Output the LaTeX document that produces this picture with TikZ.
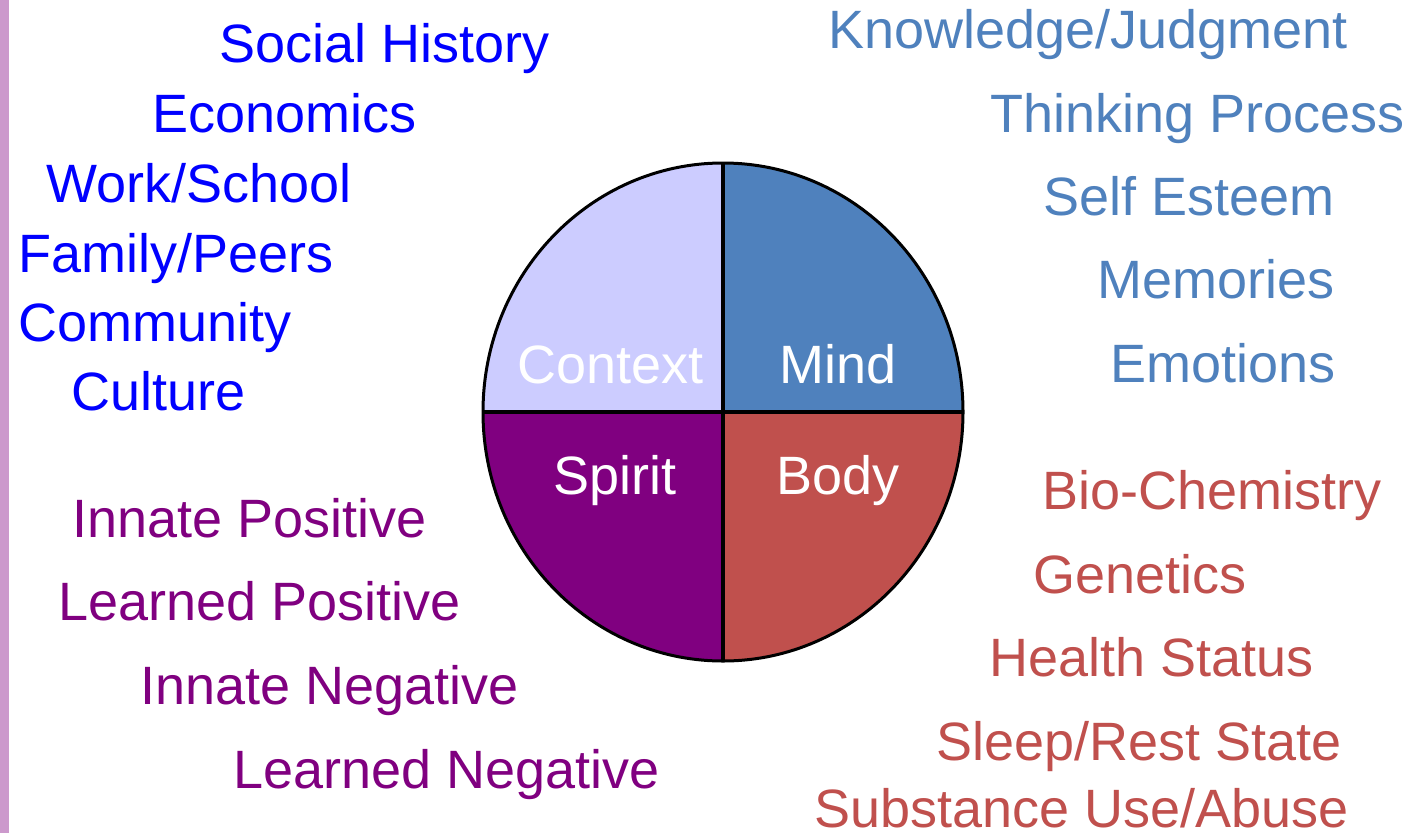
\documentclass[tikz,border=0pt]{standalone}
\usepackage{fontspec}
\setmainfont{Liberation Sans}
\usepackage{tikz}

\definecolor{ctxblue}{HTML}{0000FF}
\definecolor{mindblue}{HTML}{4F81BD}
\definecolor{spiritpurple}{HTML}{800080}
\definecolor{bodyred}{HTML}{C0504D}
\definecolor{ctxfill}{HTML}{CCCCFF}
\definecolor{barpink}{HTML}{CC99CC}

\begin{document}
\begin{tikzpicture}[x=1pt, y=-1pt,
	lbl/.style={anchor=base west, inner sep=0pt, font=\fontsize{54}{60}\selectfont}]
	\useasboundingbox (0,0) rectangle (1408,833);
	\fill[barpink] (0,0) rectangle (9,833);

	\coordinate (c) at (723,412);
	\coordinate (top) at (723,163);
	\coordinate (bot) at (723,661);
	\coordinate (lft) at (483,412);
	\coordinate (rgt) at (963,412);
	\begin{scope}
		\clip (c) ellipse [x radius=240pt, y radius=249pt];
		\fill[ctxfill] (c) rectangle (470,150);
		\fill[mindblue] (c) rectangle (980,150);
		\fill[spiritpurple] (c) rectangle (470,675);
		\fill[bodyred] (c) rectangle (980,675);
	\end{scope}
	\draw[line width=3pt] (c) ellipse [x radius=240pt, y radius=249pt];
	\draw[line width=3.5pt] (top) -- (bot);
	\draw[line width=3.5pt] (lft) -- (rgt);

	\draw (517,383) node[lbl, white] (context) {Context};
	\draw (779,383) node[lbl, white] (mind) {Mind};
	\draw (553,494) node[lbl, white] (spirit) {Spirit};
	\draw (776,494) node[lbl, white] (body) {Body};

	\foreach \name/\x/\y/\txt in {soc/219/62/Social History, eco/152/132/Economics,
		work/46/202/{Work/School}, fam/18/272/{Family/Peers}, com/18/341/Community, cul/71/410/Culture}{
		\draw (\x,\y) node[lbl, ctxblue] (\name) {\txt};
	}
	\foreach \name/\x/\y/\txt in {know/828/48/{Knowledge/Judgment}, think/990/132/Thinking Process,
		self/1043/215/Self Esteem, mem/1097/298/Memories, emo/1110/382/Emotions}{
		\draw (\x,\y) node[lbl, mindblue] (\name) {\txt};
	}
	\foreach \name/\x/\y/\txt in {ipos/72/537/Innate Positive, lpos/58/620/Learned Positive,
		ineg/140/704/Innate Negative, lneg/233/788/Learned Negative}{
		\draw (\x,\y) node[lbl, spiritpurple] (\name) {\txt};
	}
	\foreach \name/\x/\y/\txt in {bio/1042/509/Bio-Chemistry, gen/1033/593/Genetics,
		health/989/676/Health Status, sleep/936/760/{Sleep/Rest State}, subst/814/827/{Substance Use/Abuse}}{
		\draw (\x,\y) node[lbl, bodyred] (\name) {\txt};
	}

\end{tikzpicture}
\end{document}
